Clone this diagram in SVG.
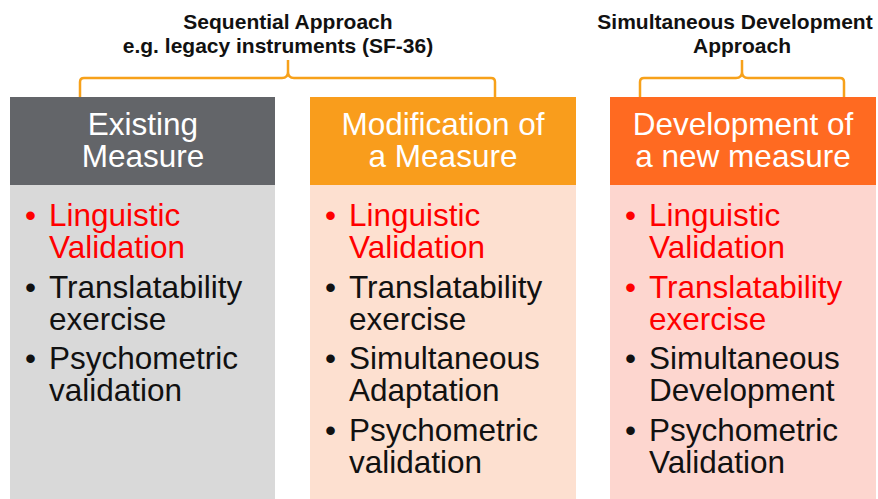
<svg xmlns="http://www.w3.org/2000/svg" width="878" height="499" viewBox="0 0 878 499">
<style>
.top{font-family:"Liberation Sans",Arial,sans-serif;font-size:21px;font-weight:bold;fill:#111;text-anchor:middle}
.hd{font-family:"Liberation Sans",Arial,sans-serif;font-size:31.5px;fill:#fff;text-anchor:middle}
.bd{font-family:"Liberation Sans",Arial,sans-serif;font-size:31.5px;fill:#111}
.red{fill:#ff0000}
.brace{fill:none;stroke:#f7a11a;stroke-width:2.5}
</style>
<rect width="878" height="499" fill="#fff"/>
<text class="top" x="288" y="29">Sequential Approach</text>
<text class="top" x="278" y="53">e.g. legacy instruments (SF-36)</text>
<text class="top" x="735" y="29">Simultaneous Development</text>
<text class="top" x="742" y="53">Approach</text>
<g id="connectors">
<path class="brace" d="M80,97 V82 Q80,78 84,78 H282 Q288,78 288,72 V60 M288,60 V72 Q288,78 294,78 H491 Q495,78 495,82 V97"/>
<path class="brace" d="M640,97 V82 Q640,78 644,78 H736 Q742,78 742,72 V60 M742,60 V72 Q742,78 748,78 H840 Q844,78 844,82 V97"/>
</g>
<g id="existing">
<rect x="10" y="97" width="265" height="88" fill="#636569"/>
<rect x="10" y="185" width="265" height="314" fill="#d9d9d9"/>
<text class="hd" x="143" y="135">Existing</text>
<text class="hd" x="143" y="167">Measure</text>
<text class="bd red" x="25" y="226">•</text>
<text class="bd red" x="49" y="226">Linguistic</text>
<text class="bd red" x="49" y="258">Validation</text>
<text class="bd" x="25" y="298">•</text>
<text class="bd" x="49" y="298">Translatability</text>
<text class="bd" x="49" y="330">exercise</text>
<text class="bd" x="25" y="369">•</text>
<text class="bd" x="49" y="369">Psychometric</text>
<text class="bd" x="49" y="401">validation</text>
</g>
<g id="modification">
<rect x="310" y="97" width="266" height="88" fill="#f99d1c"/>
<rect x="310" y="185" width="266" height="314" fill="#fde0d0"/>
<text class="hd" x="443" y="135">Modification of</text>
<text class="hd" x="443" y="167">a Measure</text>
<text class="bd red" x="325" y="226">•</text>
<text class="bd red" x="349" y="226">Linguistic</text>
<text class="bd red" x="349" y="258">Validation</text>
<text class="bd" x="325" y="298">•</text>
<text class="bd" x="349" y="298">Translatability</text>
<text class="bd" x="349" y="330">exercise</text>
<text class="bd" x="325" y="369">•</text>
<text class="bd" x="349" y="369">Simultaneous</text>
<text class="bd" x="349" y="401">Adaptation</text>
<text class="bd" x="325" y="441">•</text>
<text class="bd" x="349" y="441">Psychometric</text>
<text class="bd" x="349" y="473">validation</text>
</g>
<g id="development">
<rect x="610" y="97" width="266" height="88" fill="#ff6a21"/>
<rect x="610" y="185" width="266" height="314" fill="#fdd6cf"/>
<text class="hd" x="743" y="135">Development of</text>
<text class="hd" x="743" y="167">a new measure</text>
<text class="bd red" x="625" y="226">•</text>
<text class="bd red" x="649" y="226">Linguistic</text>
<text class="bd red" x="649" y="258">Validation</text>
<text class="bd red" x="625" y="298">•</text>
<text class="bd red" x="649" y="298">Translatability</text>
<text class="bd red" x="649" y="330">exercise</text>
<text class="bd" x="625" y="369">•</text>
<text class="bd" x="649" y="369">Simultaneous</text>
<text class="bd" x="649" y="401">Development</text>
<text class="bd" x="625" y="441">•</text>
<text class="bd" x="649" y="441">Psychometric</text>
<text class="bd" x="649" y="473">Validation</text>
</g>
</svg>
